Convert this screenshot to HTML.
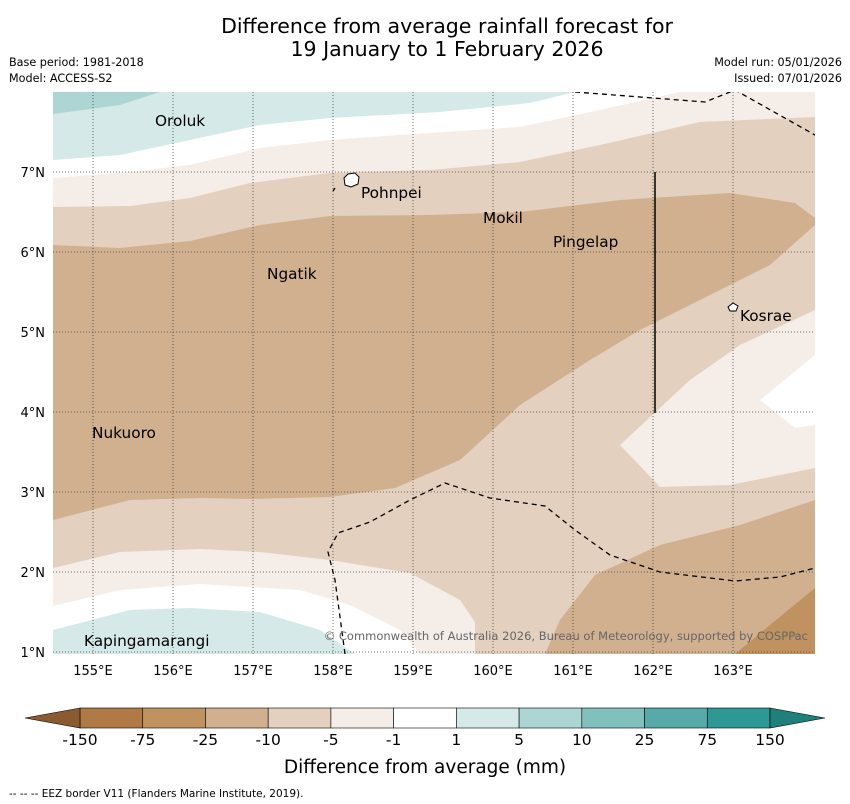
<!DOCTYPE html>
<html><head><meta charset="utf-8"><style>
body{margin:0;background:#fff;font-family:"DejaVu Sans",sans-serif;}
#wrap{position:relative;width:850px;height:804px;overflow:hidden;}
</style></head><body>
<div id="wrap">
<svg id="svg" width="850" height="804" xmlns="http://www.w3.org/2000/svg" font-family="DejaVu Sans, sans-serif">
<text x="447" y="33" font-size="20.5" text-anchor="middle">Difference from average rainfall forecast for</text>
<text x="447" y="56" font-size="20.5" text-anchor="middle">19 January to 1 February 2026</text>
<text x="9" y="66" font-size="11.2">Base period: 1981-2018</text>
<text x="9" y="82" font-size="11.2">Model: ACCESS-S2</text>
<text x="842" y="66" font-size="11.2" text-anchor="end">Model run: 05/01/2026</text>
<text x="842" y="82" font-size="11.2" text-anchor="end">Issued: 07/01/2026</text>
<defs><clipPath id="mc"><rect x="53" y="92" width="762" height="562"/></clipPath></defs>
<g clip-path="url(#mc)">
<rect x="53" y="92" width="762" height="562" fill="#e3d0bf"/>
<path fill="#f4ede8" d="M53,92 L815,92 L815,117 L700,122 L600,145 L520,162 L430,170 L330,173 L250,183 L190,198 L130,206 L53,207Z"/>
<path fill="#ffffff" d="M53,92 L680,92 L600,110 L520,127 L430,133 L330,140 L260,148 L190,165 L130,172 L53,178Z"/>
<path fill="#d5e9e8" d="M53,92 L575,92 L530,103 L440,112 L330,118 L260,125 L190,140 L120,155 L53,160Z"/>
<path fill="#acd5d4" d="M53,92 L160,92 L120,105 L53,114Z"/>
<path fill="#d1b08f" d="M53,245 L120,248 L190,241 L260,225 L330,216 L430,215 L520,212 L620,200 L730,193 L795,203 L815,218 L815,225 L770,265 L730,285 L640,330 L590,360 L520,405 L460,460 L395,488 L330,497 L250,499 L200,498 L130,500 L53,520Z"/>
<path fill="#f4ede8" d="M53,568 L120,552 L200,549 L260,552 L330,560 L410,573 L460,600 L475,622 L475,654 L53,654Z"/>
<path fill="#ffffff" d="M53,606 L120,590 L200,584 L300,590 L350,605 L400,630 L420,654 L53,654Z"/>
<path fill="#d5e9e8" d="M53,630 L130,610 L190,608 L260,612 L320,630 L355,654 L53,654Z"/>
<path fill="#f4ede8" d="M815,310 L740,345 L690,380 L620,445 L660,487 L730,485 L815,468Z"/>
<path fill="#ffffff" d="M815,355 L760,400 L795,428 L815,425Z"/>
<path fill="#d1b08f" d="M545,654 L560,620 L595,575 L660,545 L740,525 L815,500 L815,654Z"/>
<path fill="#c0925f" d="M735,654 L770,625 L815,588 L815,654Z"/>
<g id="grid" stroke="#444" stroke-width="0.8" stroke-dasharray="1,2" fill="none"></g>
<path fill="none" stroke="#000" stroke-width="1.3" stroke-dasharray="5,4" d="M575,92 L705,102 L735,90 L815,135"/>
<path fill="none" stroke="#000" stroke-width="1.3" stroke-dasharray="5,4" d="M345,654 L335,580 L328,552 L338,533 L370,522 L410,500 L445,483 L490,498 L545,506 L575,530 L610,555 L660,572 L735,581 L780,577 L815,568"/>
<path fill="none" stroke="#000" stroke-width="1.3" d="M333,191 L335,188"/>
<line x1="655" y1="172" x2="655" y2="413" stroke="#000" stroke-width="1.5"/>
<path fill="#fff" stroke="#000" stroke-width="1" d="M344,178 L348,174 L355,173 L359,177 L358,184 L351,187 L345,185Z"/>
<path fill="#fff" stroke="#000" stroke-width="1" d="M728,307 L733,303 L738,306 L736,311 L730,311Z"/>
</g>
<g font-size="15.3">
<text x="155" y="126">Oroluk</text>
<text x="361" y="198">Pohnpei</text>
<text x="483" y="223">Mokil</text>
<text x="553" y="247">Pingelap</text>
<text x="267" y="279">Ngatik</text>
<text x="740" y="321">Kosrae</text>
<text x="92" y="438">Nukuoro</text>
<text x="84" y="646">Kapingamarangi</text>
</g>
<text x="808" y="640" font-size="11.5" fill="#666" text-anchor="end">© Commonwealth of Australia 2026, Bureau of Meteorology, supported by COSPPac</text>
<g id="ticks" font-size="13"></g>
<g id="cbar"></g>
<text x="425" y="773" font-size="18.5" text-anchor="middle">Difference from average (mm)</text>
<text x="9" y="797" font-size="10.5">--  --  -- EEZ border V11 (Flanders Marine Institute, 2019).</text>
</svg>
</div>
<script>
const lonTicks=[155,156,157,158,159,160,161,162,163];
const latTicks=[1,2,3,4,5,6,7];
const cbLabels=["-150","-75","-25","-10","-5","-1","1","5","10","25","75","150"];
const cbColors=["#b07a46","#c0925f","#d1b08f","#e3d0bf","#f4ede8","#ffffff","#d5e9e8","#acd5d4","#82c0bd","#57aaa7","#2e9894"];
const NS="http://www.w3.org/2000/svg";
const xL=lon=>93+(lon-155)*80, yL=lat=>652-(lat-1)*80;
function mk(t,a,p){const e=document.createElementNS(NS,t);for(const k in a)e.setAttribute(k,a[k]);p.appendChild(e);return e;}
const grid=document.getElementById('grid'),ticks=document.getElementById('ticks');
lonTicks.forEach(l=>{const g=mk('line',{x1:xL(l),x2:xL(l),y1:92,y2:654},grid);


const t=mk('text',{x:xL(l),y:675,'text-anchor':'middle'},ticks);t.textContent=l+'°E';

});
latTicks.forEach(l=>{const g=mk('line',{x1:53,x2:815,y1:yL(l),y2:yL(l)},grid);


const t=mk('text',{x:45,y:yL(l)+5,'text-anchor':'end'},ticks);t.textContent=l+'°N';

});
const cb=document.getElementById('cbar');const x0=80,x1=770,w=(x1-x0)/cbColors.length,y0=708,h=20;
cbColors.forEach((c,i)=>{const r=mk('rect',{x:x0+i*w,y:y0,width:w,height:h,fill:c,stroke:'#000','stroke-width':0.6},cb);

});
const lt=mk('path',{d:`M${x0},${y0} L25,${y0+h/2} L${x0},${y0+h}Z`,fill:'#8a5a30',stroke:'#000','stroke-width':0.6},cb);


const rt=mk('path',{d:`M${x1},${y0} L825,${y0+h/2} L${x1},${y0+h}Z`,fill:'#1f7f7b',stroke:'#000','stroke-width':0.6},cb);


cbLabels.forEach((s,i)=>{const t=mk('text',{x:x0+i*w,y:745,'font-size':15.5,'text-anchor':'middle'},cb);t.textContent=s;

});
</script>
</body></html>
